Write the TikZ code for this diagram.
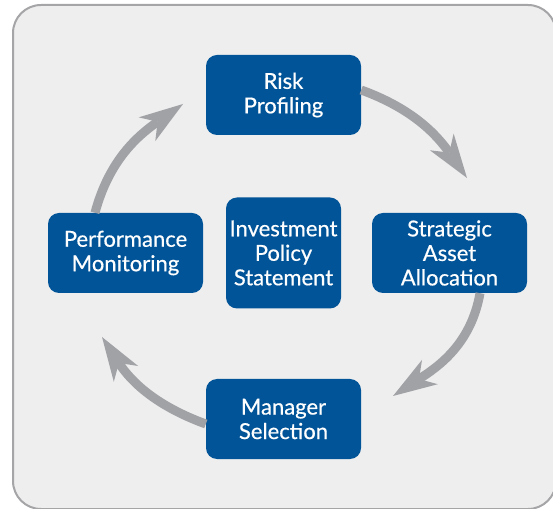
\documentclass[tikz,border=0pt]{standalone}
\usepackage{fontspec}
\setmainfont{Lato}[UprightFeatures={FakeBold=0.5}]
\usetikzlibrary{arrows.meta}

\definecolor{boxblue}{RGB}{2,84,152}
\definecolor{arrowgray}{RGB}{161,162,166}
\definecolor{panelgray}{RGB}{238,238,238}
\definecolor{framegray}{RGB}{165,165,168}

\tikzset{
  stage/.style={fill=boxblue, text=white, rounded corners=11pt,
    minimum width=155pt, minimum height=80pt, inner sep=0pt, align=center,
    font=\fontsize{22}{24.5}\selectfont},
  flow/.style={draw=arrowgray, line width=9pt,
    -{Stealth[length=44pt,width=29pt,inset=13pt,line width=0pt]}}
}

\begin{document}
\begin{tikzpicture}[x=1pt,y=1pt]
  \clip (0,0) rectangle (553,508);
  % panel
  \draw[framegray, fill=panelgray, line width=2pt, rounded corners=28pt] (13,-1) rectangle (556,503);
  % the four stages and the policy in the middle
  \node[stage] (risk) at (283.5,413) {Risk\\Profiling};
  \node[stage] (strategic) at (449.5,255) {Strategic\\Asset\\Allocation};
  \node[stage] (manager) at (283.5,89) {Manager\\Selection};
  \node[stage] (performance) at (125.5,255) {Performance\\Monitoring};
  \node[stage, minimum width=115pt, minimum height=111pt] (ips) at (283.5,255) {Investment\\Policy\\Statement};
  % arrow tips
  \coordinate (toStrategic) at (467,330);
  \coordinate (toManager) at (393,112);
  \coordinate (toPerformance) at (102,171);
  \coordinate (toRisk) at (183,404);
  % arrows round the cycle
  \draw[flow] ([yshift=5pt]risk.east) to[out=-20,in=125] (toStrategic);
  \draw[flow] ([xshift=30.5pt]strategic.south) to[out=-100,in=33] (toManager);
  \draw[flow] ([yshift=-5pt]manager.west) to[out=160,in=-57] (toPerformance);
  \draw[flow] ([xshift=-30.5pt]performance.north) to[out=75,in=215] (toRisk);
\end{tikzpicture}
\end{document}
